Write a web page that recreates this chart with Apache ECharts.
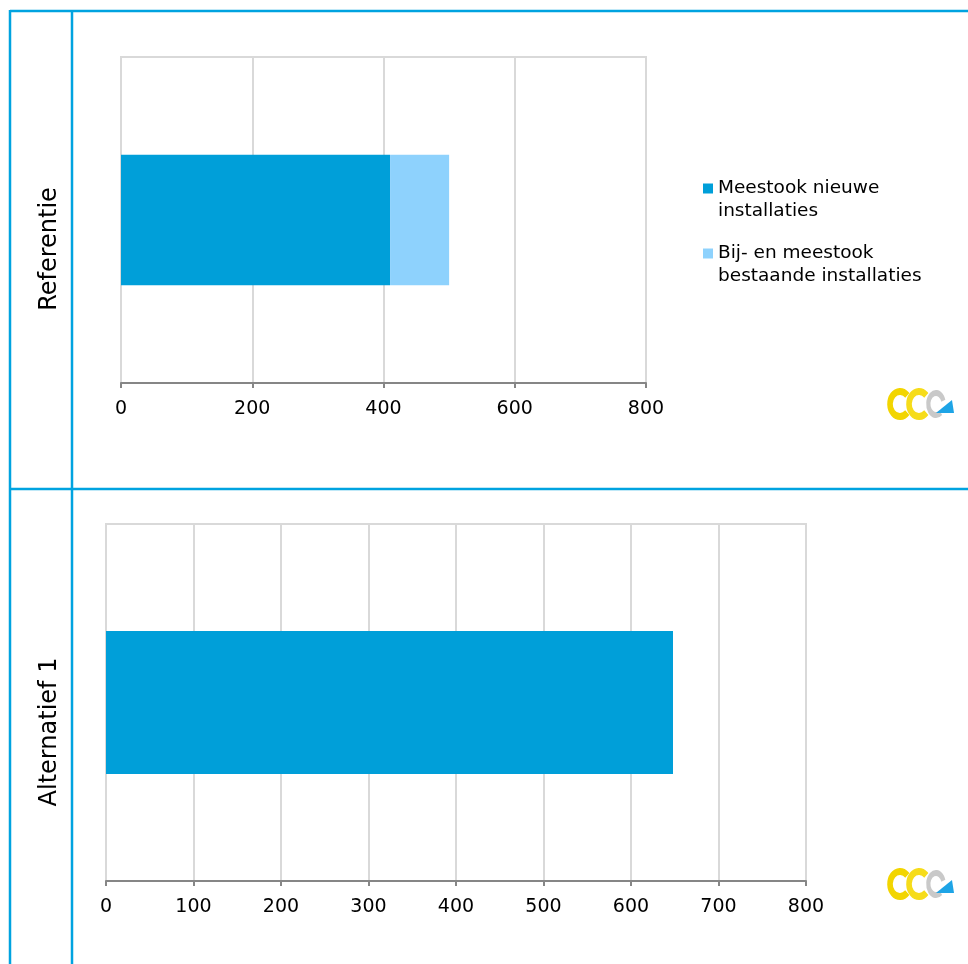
<!DOCTYPE html>
<html>
<head>
<meta charset="utf-8">
<script src="https://cdn.jsdelivr.net/npm/echarts@6/dist/echarts.min.js"></script>
<style>
  html, body { margin: 0; padding: 0; background: #fff; }
  #chart { width: 968px; height: 964px; }
</style>
</head>
<body>
<div id="chart"></div>
<script>
// Scenario panels and their series
const panelTitles = ['Referentie', 'Alternatief 1'];
const seriesNames = ['Meestook nieuwe installaties', 'Bij- en meestook bestaande installaties'];
const legendLabels = ['Meestook nieuwe\ninstallaties', 'Bij- en meestook\nbestaande installaties'];

// Referentie: stacked values
const refNew = [410];
const refExisting = [90];
// Alternatief 1: only new installations
const alt1New = [648];

// Axis scales per panel
const refAxis = { min: 0, max: 800, interval: 200 };
const altAxis = { min: 0, max: 800, interval: 100 };

const DARK = '#009fd9';
const LIGHT = '#8ed2fd';
const FRAME = '#00a3e0';
const FONT = 'DejaVu Sans';

function valueAxis(gridIndex, scale) {
  return {
    type: 'value',
    gridIndex: gridIndex,
    min: scale.min, max: scale.max, interval: scale.interval,
    axisLine: { show: true, lineStyle: { color: '#868686', width: 2 } },
    axisTick: { show: true, length: 5, lineStyle: { color: '#868686', width: 2 } },
    splitLine: { show: true, lineStyle: { color: '#d9d9d9', width: 2 } },
    axisLabel: { color: '#000', fontSize: 19, fontFamily: FONT, margin: 17 }
  };
}

function categoryAxis(gridIndex, title) {
  return {
    type: 'category',
    gridIndex: gridIndex,
    data: [title],
    axisLine: { show: false },
    axisTick: { show: false },
    axisLabel: { show: false }
  };
}

// Panel title, rotated and centred in the left column of its panel
function panelTitle(text, x, y) {
  return {
    type: 'text', x: x, y: y, rotation: Math.PI / 2, silent: true,
    style: { text: text, fill: '#000', fontSize: 24, fontFamily: FONT,
             align: 'center', verticalAlign: 'middle' }
  };
}

// Small brand mark drawn in the lower right of each panel
function logo(x, y) {
  return {
    type: 'group', x: x, y: y, silent: true,
    children: [
      { type: 'sector', x: 14, y: 16, scaleX: 0.8,
        shape: { cx: 0, cy: 0, r: 16, r0: 9, startAngle: 0.75, endAngle: Math.PI * 2 - 0.75 },
        style: { fill: '#f2d500' } },
      { type: 'sector', x: 33, y: 16, scaleX: 0.8,
        shape: { cx: 0, cy: 0, r: 16, r0: 9, startAngle: 0.75, endAngle: Math.PI * 2 - 0.75 },
        style: { fill: '#f6dc1a' } },
      { type: 'sector', x: 50, y: 16, scaleX: 0.7,
        shape: { cx: 0, cy: 0, r: 14, r0: 8, startAngle: 0.9, endAngle: Math.PI * 2 - 0.3 },
        style: { fill: '#c9c9c9' } },
      { type: 'polygon',
        shape: { points: [[50, 25], [68, 25], [66, 12]] },
        style: { fill: '#1ea4e6' } }
    ]
  };
}

function frameLine(x1, y1, x2, y2) {
  return { type: 'line', silent: true,
    shape: { x1: x1, y1: y1, x2: x2, y2: y2 },
    style: { stroke: FRAME, lineWidth: 2.5 } };
}

const chart = echarts.init(document.getElementById('chart'), null, { renderer: 'canvas' });

chart.setOption({
  animation: false,
  backgroundColor: '#fff',
  textStyle: { fontFamily: FONT },
  grid: [
    { left: 121, top: 57, width: 525, height: 326, show: true, borderColor: '#d9d9d9', borderWidth: 2 },
    { left: 106, top: 524, width: 700, height: 357, show: true, borderColor: '#d9d9d9', borderWidth: 2 }
  ],
  xAxis: [valueAxis(0, refAxis), valueAxis(1, altAxis)],
  yAxis: [categoryAxis(0, panelTitles[0]), categoryAxis(1, panelTitles[1])],
  legend: {
    orient: 'vertical',
    left: 703,
    top: 154,
    padding: 0,
    itemWidth: 10,
    itemHeight: 10,
    itemGap: -4,
    icon: 'rect',
    data: seriesNames,
    // leading blank line keeps the square level with the first text line
    formatter: function (name) { return '\n' + legendLabels[seriesNames.indexOf(name)]; },
    textStyle: { color: '#000', fontSize: 18.5, fontFamily: FONT, lineHeight: 23 }
  },
  series: [
    { name: seriesNames[0], type: 'bar', stack: 'ref', xAxisIndex: 0, yAxisIndex: 0,
      data: refNew, barWidth: '40%', itemStyle: { color: DARK } },
    { name: seriesNames[1], type: 'bar', stack: 'ref', xAxisIndex: 0, yAxisIndex: 0,
      data: refExisting, barWidth: '40%', itemStyle: { color: LIGHT } },
    { name: seriesNames[0], type: 'bar', xAxisIndex: 1, yAxisIndex: 1,
      data: alt1New, barWidth: '40%', itemStyle: { color: DARK } }
  ],
  graphic: [
    frameLine(10, 11, 968, 11),
    frameLine(10, 489, 968, 489),
    frameLine(10, 10, 10, 964),
    frameLine(72, 10, 72, 964),
    panelTitle(panelTitles[0], 50, 249),
    panelTitle(panelTitles[1], 50, 732),
    logo(886, 388),
    logo(886, 868)
  ]
});
</script>
</body>
</html>
